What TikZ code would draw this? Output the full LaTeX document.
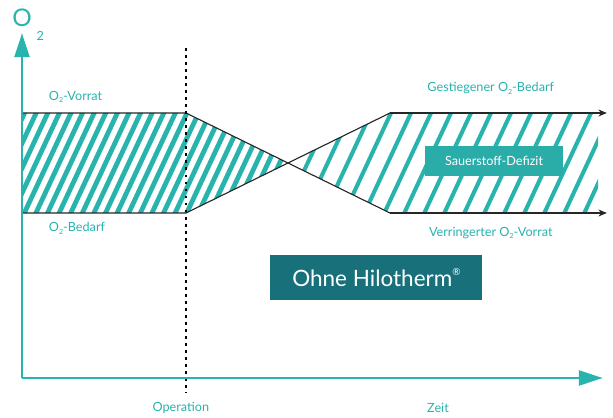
\documentclass[tikz,border=0pt]{standalone}
\usepackage{fontspec}
\setmainfont{Lato}
\usetikzlibrary{arrows.meta,positioning}
\definecolor{teal1}{HTML}{29B3AD}
\definecolor{teal2}{HTML}{2AACA8}
\definecolor{petrol}{HTML}{17707A}
\newcommand{\otwo}{O\raisebox{-0.35ex}{\tiny 2}}
\tikzset{
  axis line/.style  = {-{Triangle[length=17pt,width=10.5pt]}, line width=2pt, draw=teal1},
  level line/.style = {line width=0.8pt, black!85},
  level arrow/.style= {-{Stealth[length=6pt,width=5pt]}, line width=0.8pt, black!85},
  stripe/.style     = {line width=3.4pt, teal1},
  thin stripe/.style= {line width=2.9pt, teal1},
  oplabel/.style    = {font=\small, text=teal1},
  tagbox/.style     = {fill=teal2, text=white, font=\small,
                       minimum width=3.45cm, minimum height=0.75cm, inner sep=0pt},
  titlebox/.style   = {fill=petrol, text=white, font=\fontsize{16}{18}\selectfont,
                       minimum width=5.3cm, minimum height=1.12cm, inner sep=0pt},
}

\begin{document}
\begin{tikzpicture}
  \useasboundingbox (-0.55,-1.0) rectangle (14.775,9.45);

  % points
  \coordinate (orig) at (0,0);
  \coordinate (ytip) at (0,8.62);
  \coordinate (xtip) at (14.52,0);
  \coordinate (vl) at (0,6.625);
  \coordinate (bl) at (0,4.125);
  \coordinate (vo) at (4.1,6.625);
  \coordinate (bo) at (4.1,4.125);
  \coordinate (cross) at (6.65,5.375);
  \coordinate (gr) at (9.2,6.625);
  \coordinate (vr) at (9.2,4.125);
  \coordinate (gend) at (14.62,6.625);
  \coordinate (vend) at (14.62,4.125);
  \coordinate (optop) at (4.1,8.25);
  \coordinate (opbot) at (4.1,-0.38);

  % dense hatching, before the crossing
  \begin{scope}
    \clip (vl) -- (vo) -- (cross) -- (bo) -- (bl) -- cycle;
    \foreach \i in {-5,...,26}
      \draw[stripe] (\i*0.29,4.0) -- ++(65:3.0);
  \end{scope}

  % sparse hatching, after the crossing
  \begin{scope}
    \clip (cross) -- (gr) -- (14.4,6.625) -- (14.4,4.125) -- (vr) -- cycle;
    \foreach \i in {10,...,30}
      \draw[thin stripe] (\i*0.5,4.0) -- ++(65:3.0);
  \end{scope}

  % levels
  \draw[level line] (vl) -- (vo) -- (vr);
  \draw[level line] (bl) -- (bo) -- (gr);
  \draw[level arrow] (gr) -- (gend);
  \draw[level arrow] (vr) -- (vend);

  % operation
  \draw[line width=1.3pt, dash pattern=on 2pt off 3pt] (optop) -- (opbot);

  % axes
  \draw[axis line] (orig) -- (ytip);
  \draw[axis line] (orig) -- (xtip);

  \node[font=\LARGE, text=teal1] (ylab) at (0,9.0) {O};
  \node[font=\small, text=teal1] (ysub) at (0.46,8.55) {2};

  \node[oplabel, anchor=west] (vorrat) at (0.55,7.02) {\otwo-Vorrat};
  \node[oplabel, anchor=west] (bedarf) at (0.55,3.74) {\otwo-Bedarf};
  \node[oplabel] (gestiegen) at (11.72,7.24) {Gestiegener \otwo-Bedarf};
  \node[oplabel] (verringert) at (11.72,3.62) {Verringerter \otwo-Vorrat};
  \node[oplabel] (operation) at (3.97,-0.75) {Operation};
  \node[oplabel] (zeit) at (10.4,-0.75) {Zeit};

  \node[tagbox] (defizit) at (11.8,5.42) {Sauerstoff-Defizit};
  \node[titlebox] (ohne) at (8.86,2.51) {Ohne Hilotherm\raisebox{0.9ex}{\scriptsize\textregistered}};
\end{tikzpicture}
\end{document}
